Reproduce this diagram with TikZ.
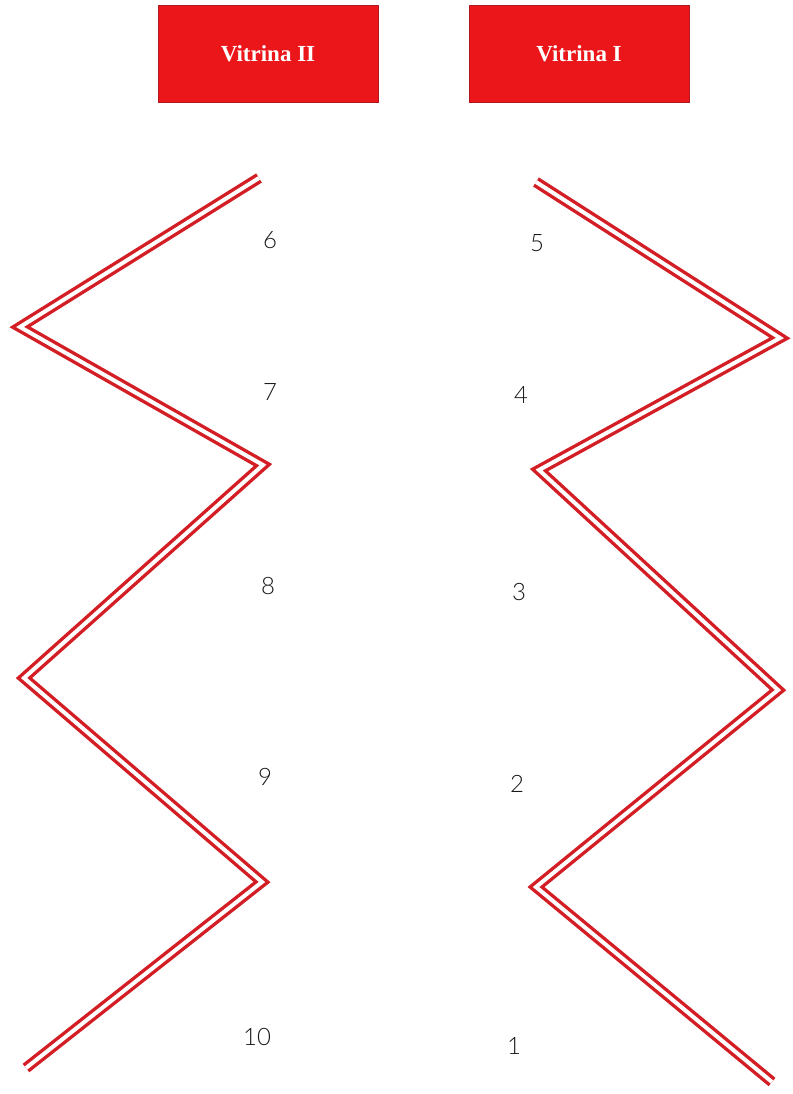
\documentclass[tikz,border=0pt]{standalone}
\usepackage{fontspec}
\setmainfont{Liberation Serif}
\newfontfamily\numfont{Lato Light}
\usetikzlibrary{positioning}
\definecolor{vitrinared}{RGB}{234, 22, 26}
\definecolor{wallred}{RGB}{210, 30, 36}

\begin{document}
\begin{tikzpicture}[
    x=1pt, y=-1pt,
    vitrina/.style={draw=wallred!85!black, fill=vitrinared, line width=0.8pt,
                    minimum width=220pt, minimum height=97pt, inner sep=0pt,
                    text=white, font=\fontsize{23}{27}\selectfont\bfseries},
    wall/.style={draw=wallred, line width=3.4pt, double=white, double distance=4pt,
                 line join=miter, miter limit=20},
    num/.style={font=\numfont\fontsize{24}{27}\selectfont, text=black!90, inner sep=0pt}
]
    \useasboundingbox (0,0) rectangle (792,1094);

    % showcases
    \node[vitrina] (vitrinaII) at (268,53.5) {Vitrina II};
    \node[vitrina] (vitrinaI) at (579,54) {Vitrina I};

    % left wall
    \coordinate (l0) at (259,178);
    \coordinate (l1) at (20,327);
    \coordinate (l2) at (263,465);
    \coordinate (l3) at (24,678);
    \coordinate (l4) at (262,882);
    \coordinate (l5) at (26,1068);
    \draw[wall] (l0) -- (l1) -- (l2) -- (l3) -- (l4) -- (l5);

    % right wall
    \coordinate (r0) at (536,182);
    \coordinate (r1) at (780,338);
    \coordinate (r2) at (539,470);
    \coordinate (r3) at (778,690);
    \coordinate (r4) at (536,887);
    \coordinate (r5) at (772,1082);
    \draw[wall] (r0) -- (r1) -- (r2) -- (r3) -- (r4) -- (r5);

    % positions
    \node[num] (n6) at (270,240) {6};
    \node[num] (n7) at (270,392) {7};
    \node[num] (n8) at (268,586) {8};
    \node[num] (n9) at (265,777) {9};
    \node[num] (n10) at (257,1037) {10};
    \node[num] (n5) at (537,243) {5};
    \node[num] (n4) at (521,395) {4};
    \node[num] (n3) at (519,592) {3};
    \node[num] (n2) at (517,784) {2};
    \node[num] (n1) at (514,1046) {1};
\end{tikzpicture}
\end{document}
